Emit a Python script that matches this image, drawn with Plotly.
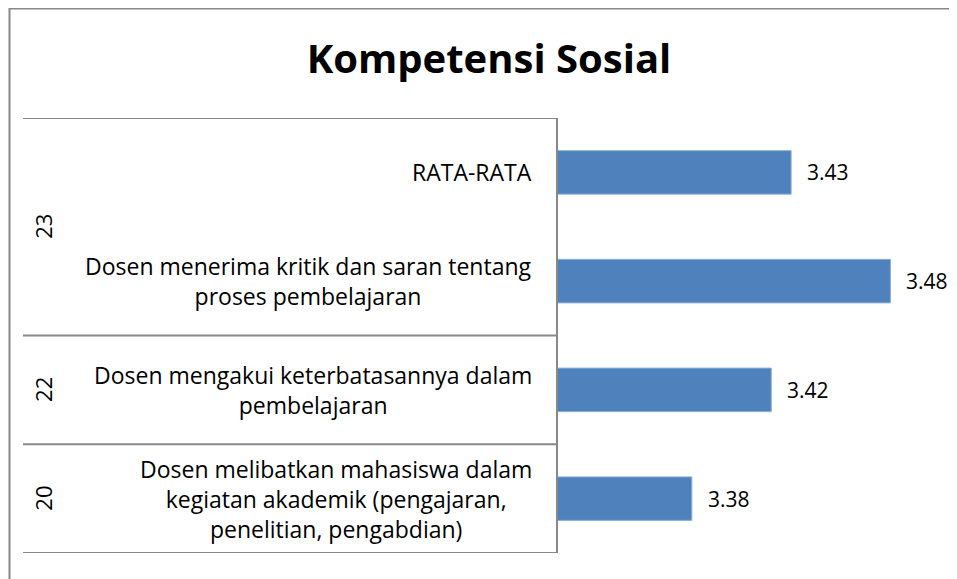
import plotly.graph_objects as go

# data (bottom to top, as drawn)
groups = ["20", "22", "23", "23"]
items = [
    "Dosen melibatkan mahasiswa dalam<br>kegiatan akademik (pengajaran,<br>penelitian, pengabdian)",
    "Dosen mengakui keterbatasannya dalam<br>pembelajaran",
    "Dosen menerima kritik dan saran tentang<br>proses pembelajaran",
    "RATA-RATA",
]
scores = [3.38, 3.42, 3.48, 3.43]

FONT = "Open Sans, sans-serif"
OFF = 8  # page body margin
W, H = 957 - OFF, 579 - OFF
ML, MR, MT, MB = 558 - OFF, 7, 118 - OFF, 26
PW, PH = W - ML - MR, H - MT - MB


# helpers: reference-image pixel -> paper coords
def px_x(p):
    return (p - OFF - ML) / PW


def px_y(p):
    return (H - MB - (p - OFF)) / PH


cats = [str(i) for i in range(len(items))]

fig = go.Figure()
fig.add_trace(go.Bar(
    x=scores, y=cats, orientation="h",
    marker=dict(color="#4F81BD", line=dict(color="#8DB0DA", width=1)),
    hoverinfo="x",
))

ann = []
# inner category labels
for c, t in zip(cats, items):
    ann.append(dict(x=px_x(534), xref="paper", y=c, yref="y", text=t, showarrow=False,
                    xanchor="right", yanchor="middle", align="center",
                    font=dict(family=FONT, size=23, color="black")))
# value labels
for c, v in zip(cats, scores):
    ann.append(dict(x=v, xref="x", y=c, yref="y", text=f"{v:.2f}", showarrow=False,
                    xanchor="left", xshift=14, yanchor="middle",
                    font=dict(family=FONT, size=21, color="black")))

# outer group labels + divider lines
shapes = []
line_col = "#888888"
start = 0
bounds = [-0.5]
while start < len(groups):
    end = start
    while end + 1 < len(groups) and groups[end + 1] == groups[start]:
        end += 1
    ann.append(dict(x=px_x(43), xref="paper", y=(start + end) / 2, yref="y",
                    text=groups[start], textangle=-90, showarrow=False,
                    xanchor="center", yanchor="middle",
                    font=dict(family=FONT, size=22, color="black")))
    bounds.append(end + 0.5)
    start = end + 1

for b in bounds:
    shapes.append(dict(type="line", xref="paper", yref="y", x0=px_x(23), x1=0,
                       y0=b, y1=b, line=dict(color=line_col, width=2)))

# chart area border
shapes.append(dict(type="rect", xref="paper", yref="paper",
                   x0=px_x(9.5), x1=px_x(1000), y0=px_y(640), y1=px_y(8.5),
                   line=dict(color=line_col, width=2), layer="below"))

fig.update_layout(
    width=W, height=H,
    margin=dict(l=ML, r=MR, t=MT, b=MB),
    paper_bgcolor="white", plot_bgcolor="white",
    title=dict(text="<b>Kompetensi Sosial</b>", x=(489 - OFF) / W, xref="container", xanchor="center",
               y=1 - (59 - OFF) / H, yref="container", yanchor="middle",
               font=dict(family=FONT, size=40, color="black")),
    xaxis=dict(range=[3.3126, 3.51], visible=False, fixedrange=True),
    yaxis=dict(showticklabels=False, showgrid=False, zeroline=False, ticks="",
               showline=True, linecolor=line_col, linewidth=2,
               range=[-0.5, len(cats) - 0.5], fixedrange=True),
    bargap=0.6,
    showlegend=False,
    annotations=ann,
    shapes=shapes,
)

fig.write_html("out.html")
